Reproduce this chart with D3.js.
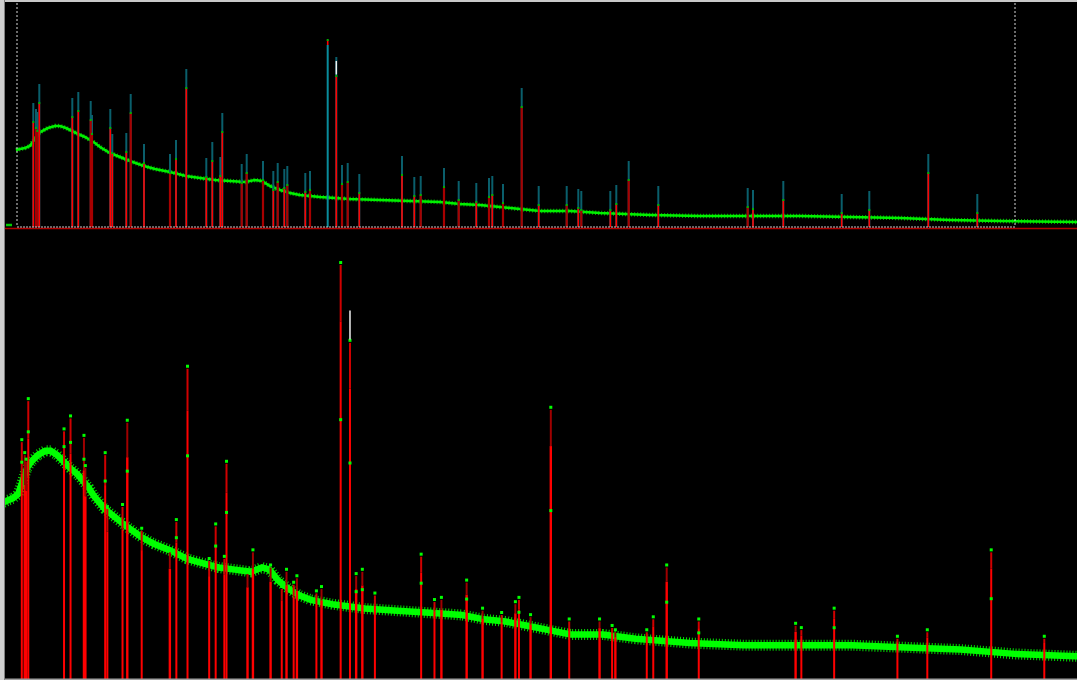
<!DOCTYPE html>
<html><head><meta charset="utf-8">
<script src="https://cdn.jsdelivr.net/npm/d3@7"></script>
<style>html,body{margin:0;padding:0;background:#000;overflow:hidden}</style>
</head><body>
<svg id="c" width="1077" height="680"></svg>
<script>
// Peak positions (2θ), peak intensities (counts), kind: 0 = bright red, 1 = dark red, 2 = calc-only (teal)
const peakPos  = [3.33,3.60,3.73,3.93,7.23,7.83,9.07,9.20,11.03,11.23,12.63,13.07,14.40,17.00,17.60,18.63,20.63,21.23,22.03,22.23,
                  24.17,24.67,26.30,27.33,27.77,28.43,28.73,30.53,31.00,32.77,33.63,34.20,34.77,35.93,40.20,41.43,42.07,44.40,45.87,47.63,
                  48.90,49.23,50.30,52.17,53.87,56.67,57.83,58.13,61.03,61.63,62.87,65.83,74.77,75.30,78.33,84.17,86.93,92.83,97.73];
const peakInt  = [1050,990,960,1240,1100,1160,1070,930,990,740,750,1140,640,540,680,1390,500,660,510,950,
                  440,540,470,370,450,390,420,350,370,1870,1510,430,450,340,520,310,320,400,270,250,
                  300,320,240,1200,220,220,190,170,170,230,470,220,200,180,270,140,170,540,140];
const peakKind = [0,1,1,0,0,0,1,1,0,0,0,1,0,1,0,0,0,0,0,0,
                  1,1,1,0,1,0,1,0,1,2,0,1,1,0,0,0,1,1,1,0,
                  1,0,1,1,0,1,0,1,0,0,1,0,1,0,0,0,0,0,0];
// Background (observed profile) positions and intensities
const bgPos = [1.6,2.0,2.5,3.0,3.4,3.8,4.2,4.8,5.5,6.0,6.6,7.2,7.8,8.5,9.0,9.5,10.0,11.0,12.0,13.0,14.4,15.5,17.0,18.6,20.0,21.5,23.0,24.5,25.5,26.2,
               27.0,28.0,29.0,30.0,32.0,35.0,38.0,41.0,44.0,46.0,48.0,50.0,52.0,54.0,57.0,60.0,65.0,70.0,75.0,80.0,85.0,90.0,95.0,100.0,107.7];
const bgInt = [770,780,790,810,870,930,960,990,1010,1010,990,960,930,900,870,840,800,740,700,660,610,580,550,510,490,470,460,450,470,460,
               410,370,340,320,300,280,270,260,250,230,220,200,180,160,160,140,120,110,110,110,100,90,70,60,50];
const stubPos = [0.6,1.2];
const stubInt = [20,20];
const windowRange = [1.7,101.5];
const markerPos = 33.63;
const markerInt = [1525,1660];
const calcOffset = 190;

const svg = d3.select("#c");
svg.append("rect").attr("width",1077).attr("height",680).attr("fill","#000");

const xTop = d3.scaleLinear().domain([0.5,107.7]).range([5,1077]);
const yTop = d3.scaleLinear().domain([0,2270]).range([227,0]);
const xBot = d3.scaleLinear().domain([1.78,100.75]).range([5,1077]);
const yBot = d3.scaleLinear().domain([0,3097]).range([669,0]);
const bgAt = d3.scaleLinear().domain(bgPos).range(bgInt).clamp(true);

const defs = svg.append("defs");
defs.append("clipPath").attr("id","ct").append("rect").attr("x",5).attr("y",2).attr("width",1072).attr("height",225);
defs.append("clipPath").attr("id","cb").append("rect").attr("x",5).attr("y",229).attr("width",1072).attr("height",450);

const peaks = peakPos.map((p,i)=>({p, I:peakInt[i], k:peakKind[i]}));
const bg = bgPos.map((p,i)=>({p, I:bgInt[i]}));
const stub = stubPos.map((p,i)=>({p, I:stubInt[i]}));

// ---------- TOP PANEL ----------
const gt = svg.append("g").attr("clip-path","url(#ct)");
const lineT = d3.line().x(d=>xTop(d.p)).y(d=>yTop(d.I)).curve(d3.curveLinear);
gt.append("path").datum(bg).attr("d",lineT).attr("fill","none").attr("stroke","#00a800").attr("stroke-width",4.5).attr("stroke-dasharray","1,2");
gt.append("path").datum(bg).attr("d",lineT).attr("fill","none").attr("stroke","#00f000").attr("stroke-width",2.6);
gt.append("path").datum(stub).attr("d",lineT).attr("fill","none").attr("stroke","#00cc00").attr("stroke-width",2.5);

// calc (teal) markers
gt.selectAll("line.teal").data(peaks).enter().append("line")
  .attr("x1",d=>xTop(d.p)).attr("x2",d=>xTop(d.p))
  .attr("y1",yTop(0)).attr("y2",d=>d.k===2 ? yTop(d.I-50) : yTop(d.I+calcOffset))
  .attr("stroke",d=>d.k===2?"#0a8c9c":"#0a5f6c").attr("stroke-width",2);
// observed (red)
gt.selectAll("line.obs").data(peaks.filter(d=>d.k!==2)).enter().append("line")
  .attr("x1",d=>xTop(d.p)).attr("x2",d=>xTop(d.p))
  .attr("y1",yTop(0)).attr("y2",d=>yTop(d.I))
  .attr("stroke",d=>d.k===1?"#a80000":"#ff0000").attr("stroke-width",d=>d.k===1?2.2:1.6);
gt.selectAll("line.cap").data(peaks.filter(d=>d.k===2)).enter().append("line")
  .attr("x1",d=>xTop(d.p)).attr("x2",d=>xTop(d.p))
  .attr("y1",d=>yTop(d.I-50)).attr("y2",d=>yTop(d.I))
  .attr("stroke","#ff0000").attr("stroke-width",1.6);
gt.selectAll("rect.dot").data(peaks).enter().append("rect")
  .attr("x",d=>xTop(d.p)-1).attr("y",d=>yTop(d.I)-1).attr("width",2).attr("height",2).attr("fill","#00b000");
// marker
gt.append("line").attr("x1",xTop(markerPos)).attr("x2",xTop(markerPos))
  .attr("y1",yTop(markerInt[0])).attr("y2",yTop(markerInt[1])).attr("stroke","#f0f0f0").attr("stroke-width",1.5);

// window and baseline
svg.append("line").attr("x1",5).attr("x2",1077).attr("y1",228.5).attr("y2",228.5).attr("stroke","#b00000").attr("stroke-width",1.6);
svg.append("line").attr("x1",xTop(windowRange[0])).attr("x2",xTop(windowRange[1])).attr("y1",227).attr("y2",227)
  .attr("stroke","#c8c8c8").attr("stroke-width",1.2).attr("stroke-dasharray","2,1");
windowRange.forEach(w=>{
  svg.append("line").attr("x1",xTop(w)).attr("x2",xTop(w)).attr("y1",3).attr("y2",227)
    .attr("stroke","#d8d8d8").attr("stroke-width",1).attr("stroke-dasharray","2,2");
});

// ---------- BOTTOM PANEL ----------
const gb = svg.append("g").attr("clip-path","url(#cb)");
const lineB = d3.line().x(d=>xBot(d.p)).y(d=>yBot(d.I));
gb.append("path").datum(bg).attr("d",lineB).attr("fill","none").attr("stroke","#00e000").attr("stroke-width",11).attr("stroke-dasharray","1,2");
gb.append("path").datum(bg).attr("d",lineB).attr("fill","none").attr("stroke","#00ff00").attr("stroke-width",6.5);

gb.selectAll("line.b").data(peaks).enter().append("line")
  .attr("x1",d=>xBot(d.p)).attr("x2",d=>xBot(d.p))
  .attr("y1",680).attr("y2",d=>yBot(d.I*0.86))
  .attr("stroke","#ff0000").attr("stroke-width",d=>d.k===1?2.4:2);
gb.selectAll("line.bt").data(peaks).enter().append("line")
  .attr("x1",d=>xBot(d.p)).attr("x2",d=>xBot(d.p))
  .attr("y1",d=>yBot(d.I*0.86)).attr("y2",d=>yBot(d.I))
  .attr("stroke",d=>d.k===1?"#a00000":"#d00000").attr("stroke-width",2);
gb.selectAll("rect.bd").data(peaks).enter().append("rect")
  .attr("x",d=>xBot(d.p)-1.5).attr("y",d=>yBot(d.I)-4).attr("width",3).attr("height",3).attr("fill","#00ff00");
gb.selectAll("rect.bm").data(peaks.filter(d=>d.I-bgAt(d.p)>100)).enter().append("rect")
  .attr("x",d=>xBot(d.p)-1.5).attr("y",d=>yBot(bgAt(d.p)+(d.I-bgAt(d.p))*0.55)).attr("width",3).attr("height",3).attr("fill","#00ff00");
gb.append("line").attr("x1",xBot(markerPos)).attr("x2",xBot(markerPos))
  .attr("y1",yBot(markerInt[0])).attr("y2",yBot(markerInt[1])).attr("stroke","#f0f0f0").attr("stroke-width",1.5);

// frame
svg.append("rect").attr("x",0).attr("y",0).attr("width",1077).attr("height",2).attr("fill","#c8c8c8");
svg.append("rect").attr("x",0).attr("y",0).attr("width",4).attr("height",680).attr("fill","#d0d0d0");
svg.append("rect").attr("x",4).attr("y",0).attr("width",1).attr("height",680).attr("fill","#808080");
svg.append("rect").attr("x",5).attr("y",678.5).attr("width",1072).attr("height",1.5).attr("fill","#a0a0a0");
</script>
</body></html>
